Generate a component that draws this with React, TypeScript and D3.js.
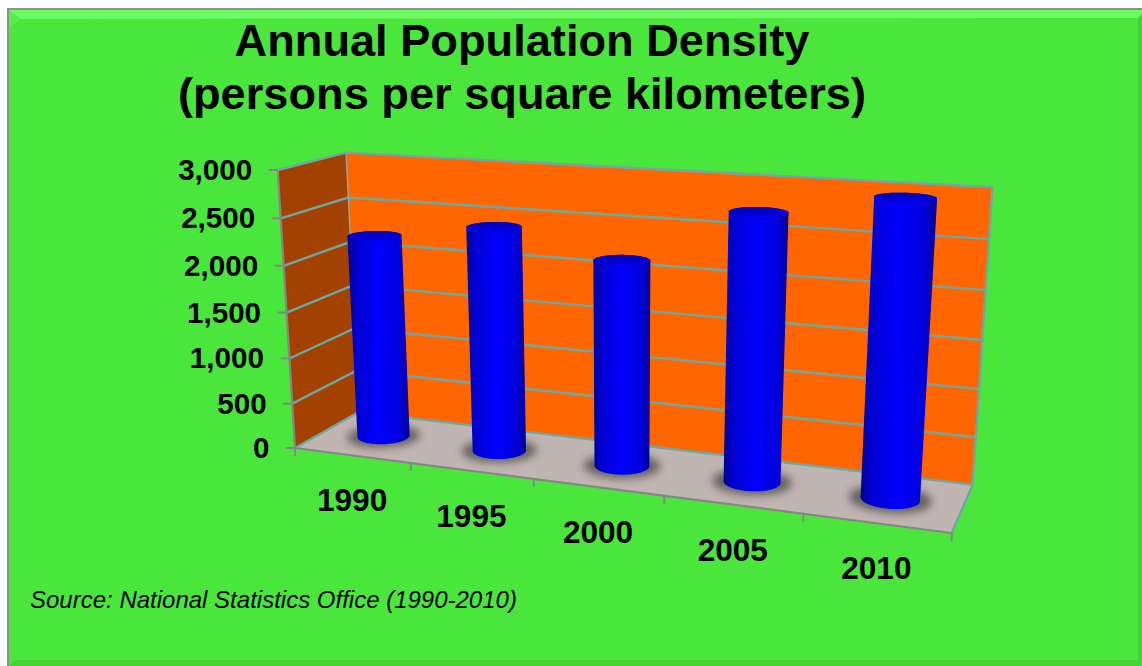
import React from "react";
import * as d3 from "d3";

const years = ["1990", "1995", "2000", "2005", "2010"];
const density = [2240, 2425, 2175, 2750, 2970];
const valueTicks = [0, 500, 1000, 1500, 2000, 2500, 3000];
const titleLines = ["Annual Population Density", "(persons per square kilometers)"];
const sourceNote = "Source: National Statistics Office (1990-2010)";

const width = 1142;
const height = 666;

// corners of the 3D box on screen, plus how much each axis shrinks towards its far end
const origin = [295, 448];
const xEnd = [951.7, 533];
const yEnd = [277.7, 170];
const zEnd = [359, 412];
const wx = -0.143;
const wy = -0.05;
const wz = 0.075;

const axisVec = (end: number[], w: number) => [
  end[0] * (1 + w) - origin[0],
  end[1] * (1 + w) - origin[1],
];
const ex = axisVec(xEnd, wx);
const ey = axisVec(yEnd, wy);
const ez = axisVec(zEnd, wz);

// x, y, z all in 0..1
function project(x: number, y: number, z: number): [number, number] {
  const w = 1 + x * wx + y * wy + z * wz;
  return [
    (origin[0] + x * ex[0] + y * ey[0] + z * ez[0]) / w,
    (origin[1] + x * ex[1] + y * ey[1] + z * ez[1]) / w,
  ];
}

const band = d3.scaleBand().domain(years).range([0, 1]);
const valueScale = d3.scaleLinear().domain([0, 3000]).range([0, 1]);
const line = d3.line();
const closed = d3.line().curve(d3.curveLinearClosed);
const tickFormat = d3.format(",");

const radiusX = 0.041;
const radiusZ = 0.2;
const zMid = 0.5;

function ring(cx: number, y: number, scale = 1) {
  return d3.range(0, 60).map((i) => {
    const a = (i / 60) * Math.PI * 2;
    return project(
      cx + Math.cos(a) * radiusX * scale,
      y,
      zMid + Math.sin(a) * radiusZ * scale
    );
  });
}

function Column({ year, value }: { year: string; value: number }) {
  const cx = (band(year) as number) + band.bandwidth() / 2;
  const y = valueScale(value);
  const bottom = ring(cx, 0);
  const top = ring(cx, y);
  const hull = d3.polygonHull([...bottom, ...top]) as [number, number][];
  const xs = d3.extent(hull, (d) => d[0]) as [number, number];
  const id = `col-${year}`;
  return (
    <g>
      <path d={closed(ring(cx, 0, 1.4)) as string} fill="#3f3f3f" opacity={0.72} filter="url(#soft)" />
      <linearGradient id={id} gradientUnits="userSpaceOnUse" x1={xs[0]} x2={xs[1]} y1={0} y2={0}>
        <stop offset="0" stopColor="#00008c" />
        <stop offset="0.12" stopColor="#0000cc" />
        <stop offset="0.5" stopColor="#0000ff" />
        <stop offset="0.85" stopColor="#0000d8" />
        <stop offset="1" stopColor="#000090" />
      </linearGradient>
      <path d={closed(hull) as string} fill={`url(#${id})`} />
      <path d={closed(top) as string} fill="url(#cap)" />
    </g>
  );
}

export default function App() {
  const floor = [project(0, 0, 0), project(1, 0, 0), project(1, 0, 1), project(0, 0, 1)];
  const side = [project(0, 0, 0), project(0, 1, 0), project(0, 1, 1), project(0, 0, 1)];
  const back = [project(0, 0, 1), project(0, 1, 1), project(1, 1, 1), project(1, 0, 1)];
  const edges = d3.range(0, years.length + 1).map((i) => i / years.length);

  return (
    <svg
      width={width}
      height={height}
      style={{ position: "absolute", left: 0, top: 0, display: "block" }}
      fontFamily="'Liberation Sans', Arial, sans-serif"
    >
      <defs>
        <filter id="soft" x="-30%" y="-60%" width="160%" height="220%">
          <feGaussianBlur stdDeviation="4" />
        </filter>
        <linearGradient id="cap" x1="0" x2="0" y1="0" y2="1">
          <stop offset="0" stopColor="#0000b4" />
          <stop offset="1" stopColor="#0000e6" />
        </linearGradient>
      </defs>

      <rect width={width} height={height} fill="#ffffff" />
      <rect x={7} y={8} width={width - 7} height={height - 8} fill="#8f8f8f" />
      <rect x={9} y={10} width={width - 9} height={height - 10} fill="#4ae63c" />
      {/* bevel round the card */}
      <polygon points="9,10 1142,10 1142,18 20,19" fill="#6dfb62" />
      <polygon points="9,10 20,19 9,28" fill="#58ee4c" />
      <polygon points="1138,18 1142,14 1142,666 1138,666" fill="#43d236" />
      <polygon points="9,666 16,660 1142,660 1142,666" fill="#44d437" />

      {titleLines.map((t, i) => (
        <text
          key={t}
          x={522}
          y={56 + i * 53}
          textAnchor="middle"
          fontSize={45.2}
          fontWeight="bold"
          fill="#000"
        >
          {t}
        </text>
      ))}

      <path d={closed(floor) as string} fill="#c0b5b1" />
      <path d={closed(side) as string} fill="#a34200" />
      <path d={closed(back) as string} fill="#ff6600" />

      {/* gridlines over walls */}
      {valueTicks.map((t) => {
        const v = valueScale(t);
        return (
          <path
            key={t}
            d={line([project(0, v, 0), project(0, v, 1), project(1, v, 1)]) as string}
            fill="none"
            stroke="#6ea8a4"
            strokeWidth={2.4}
          />
        );
      })}
      <path
        d={line([project(0, 0, 1), project(0, 1, 1)]) as string}
        stroke="#8fa5a0"
        strokeWidth={1.5}
        fill="none"
      />
      <path
        d={line([project(1, 0, 0), project(1, 0, 1), project(1, 1, 1)]) as string}
        stroke="#6ea8a4"
        strokeWidth={2.4}
        fill="none"
      />

      {/* axes */}
      <path d={line([project(0, 0, 0), project(0, 1, 0)]) as string} stroke="#868686" strokeWidth={2.2} fill="none" />
      <path d={line([project(0, 0, 0), project(1, 0, 0)]) as string} stroke="#868686" strokeWidth={2.2} fill="none" />
      {valueTicks.map((t) => {
        const [px, py] = project(0, valueScale(t), 0);
        return (
          <g key={t}>
            <line x1={px - 9} x2={px} y1={py} y2={py} stroke="#868686" strokeWidth={2} />
            <text
              x={px - 25.5}
              y={py + 10}
              textAnchor="end"
              fontSize={29.6}
              fontWeight="bold"
              fill="#000"
            >
              {tickFormat(t)}
            </text>
          </g>
        );
      })}
      {edges.map((e) => {
        const [px, py] = project(e, 0, 0);
        return <line key={e} x1={px} x2={px} y1={py} y2={py + 8} stroke="#868686" strokeWidth={2} />;
      })}
      {years.map((y) => {
        const [px, py] = project((band(y) as number) + band.bandwidth() / 2, 0, 0);
        return (
          <text
            key={y}
            x={px}
            y={py + 56}
            textAnchor="middle"
            fontSize={31.6}
            fontWeight="bold"
            fill="#000"
          >
            {y}
          </text>
        );
      })}

      {years.map((y, i) => (
        <Column key={y} year={y} value={density[i]} />
      ))}

      <text x={30} y={608} fontSize={24} fontStyle="italic" fill="#000">
        {sourceNote}
      </text>
    </svg>
  );
}
